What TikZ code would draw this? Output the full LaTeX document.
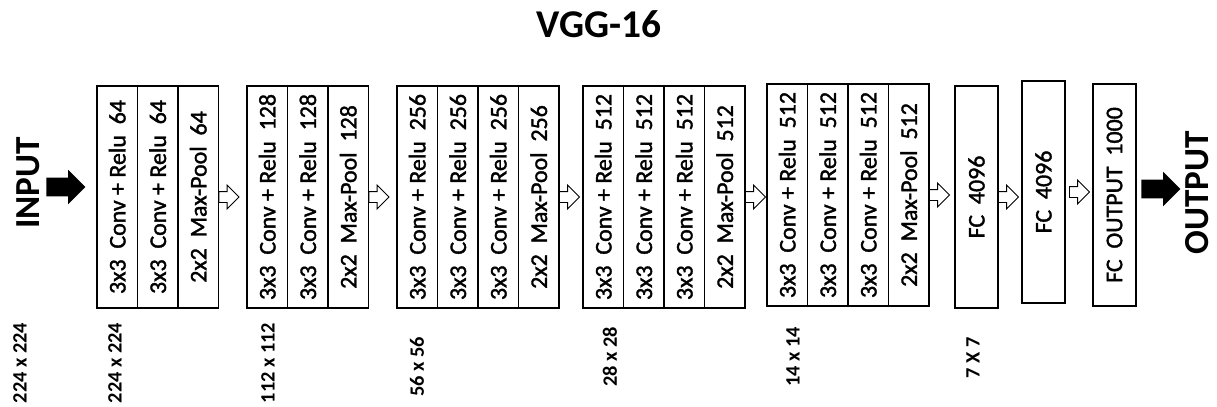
\documentclass[tikz,border=0pt]{standalone}
\usepackage{fontspec}
\setmainfont{Carlito}
\newfontfamily\cellfont{Carlito}[FakeBold=1.5]
\usepackage{graphicx}
\usetikzlibrary{positioning,shapes.arrows}

\begin{document}
\begin{tikzpicture}[
  cell/.style={draw,line width=1.2pt,outer sep=0pt,inner sep=0pt,minimum width=1.0125cm,minimum height=5.55cm,font=\cellfont\fontsize{17}{20}\selectfont},
  fcbox/.style={cell,minimum width=1.075cm},
  hollow/.style={single arrow,draw,line width=0.7pt,inner sep=0pt,inner ysep=0.125cm,minimum height=0.5cm,single arrow head extend=0.16cm},
  blackarrow/.style={single arrow,fill=black,inner sep=0pt,inner ysep=0.23cm,minimum height=0.975cm,single arrow head extend=0.19cm,anchor=west},
  dims/.style={rotate=90,font=\bfseries\fontsize{14.5}{16}\selectfont},
  bigword/.style={rotate=90,font=\bfseries\fontsize{25}{30}\selectfont}
]
\useasboundingbox (0,0) rectangle (30.425,-10.15);
\node[font=\bfseries\fontsize{28}{32}\selectfont] (title) at (14.975,-0.61) {VGG-16};

% input side
\node[bigword] (inp) at (0.7,-4.575) {INPUT};
\node[blackarrow] (inarr) at (1.15,-4.675) {};

% block 1
\node[cell,anchor=west] (b1a) at (2.425,-4.925) {\rotatebox{90}{3x3~~Conv + Relu~~64}};
\node[cell,right=0pt of b1a] (b1b) {\rotatebox{90}{3x3~~Conv + Relu~~64}};
\node[cell,right=0pt of b1b] (b1c) {\rotatebox{90}{2x2~~Max-Pool~~64}};
\node[hollow,right=0pt of b1c] (h1) {};

% block 2
\node[cell,anchor=west] (b2a) at (6.175,-4.925) {\rotatebox{90}{3x3~~Conv + Relu~~128}};
\node[cell,right=0pt of b2a] (b2b) {\rotatebox{90}{3x3~~Conv + Relu~~128}};
\node[cell,right=0pt of b2b] (b2c) {\rotatebox{90}{2x2~~Max-Pool~~128}};
\node[hollow,right=0pt of b2c] (h2) {};

% block 3
\node[cell,anchor=west] (b3a) at (9.925,-4.925) {\rotatebox{90}{3x3~~Conv + Relu~~256}};
\node[cell,right=0pt of b3a] (b3b) {\rotatebox{90}{3x3~~Conv + Relu~~256}};
\node[cell,right=0pt of b3b] (b3c) {\rotatebox{90}{3x3~~Conv + Relu~~256}};
\node[cell,right=0pt of b3c] (b3d) {\rotatebox{90}{2x2~~Max-Pool~~256}};
\node[hollow,right=0pt of b3d] (h3) {};

% block 4
\node[cell,anchor=west] (b4a) at (14.575,-4.925) {\rotatebox{90}{3x3~~Conv + Relu~~512}};
\node[cell,right=0pt of b4a] (b4b) {\rotatebox{90}{3x3~~Conv + Relu~~512}};
\node[cell,right=0pt of b4b] (b4c) {\rotatebox{90}{3x3~~Conv + Relu~~512}};
\node[cell,right=0pt of b4c] (b4d) {\rotatebox{90}{2x2~~Max-Pool~~512}};
\node[hollow,right=0pt of b4d] (h4) {};

% block 5
\node[cell,anchor=west] (b5a) at (19.175,-4.875) {\rotatebox{90}{3x3~~Conv + Relu~~512}};
\node[cell,right=0pt of b5a] (b5b) {\rotatebox{90}{3x3~~Conv + Relu~~512}};
\node[cell,right=0pt of b5b] (b5c) {\rotatebox{90}{3x3~~Conv + Relu~~512}};
\node[cell,right=0pt of b5c] (b5d) {\rotatebox{90}{2x2~~Max-Pool~~512}};
\node[hollow,right=0pt of b5d] (h5) {};

% fully connected
\node[fcbox,anchor=west] (fc1) at (23.875,-4.925) {\rotatebox{90}{FC~~4096}};
\node[hollow,right=0pt of fc1] (h6) {};
\node[fcbox,anchor=west] (fc2) at (25.55,-4.8) {\rotatebox{90}{FC~~4096}};
\node[hollow,right=0.1cm of fc2] (h7) {};
\node[fcbox,anchor=west] (fc3) at (27.325,-4.875) {\rotatebox{90}{FC~~OUTPUT~~1000}};

% output side
\node[blackarrow] (outarr) at (28.525,-4.725) {};
\node[bigword] (outp) at (29.93,-4.825) {OUTPUT};

% sizes
\node[dims] (d0) at (0.5,-9.075) {224 x 224};
\node[dims] (d1) at (2.875,-9.075) {224 x 224};
\node[dims] (d2) at (6.7,-9.075) {112 x 112};
\node[dims] (d3) at (10.425,-9.175) {56 x 56};
\node[dims] (d4) at (15.25,-8.925) {28 x 28};
\node[dims] (d5) at (19.825,-8.925) {14 x 14};
\node[dims] (d6) at (24.325,-8.95) {7 X 7};

\end{tikzpicture}
\end{document}
